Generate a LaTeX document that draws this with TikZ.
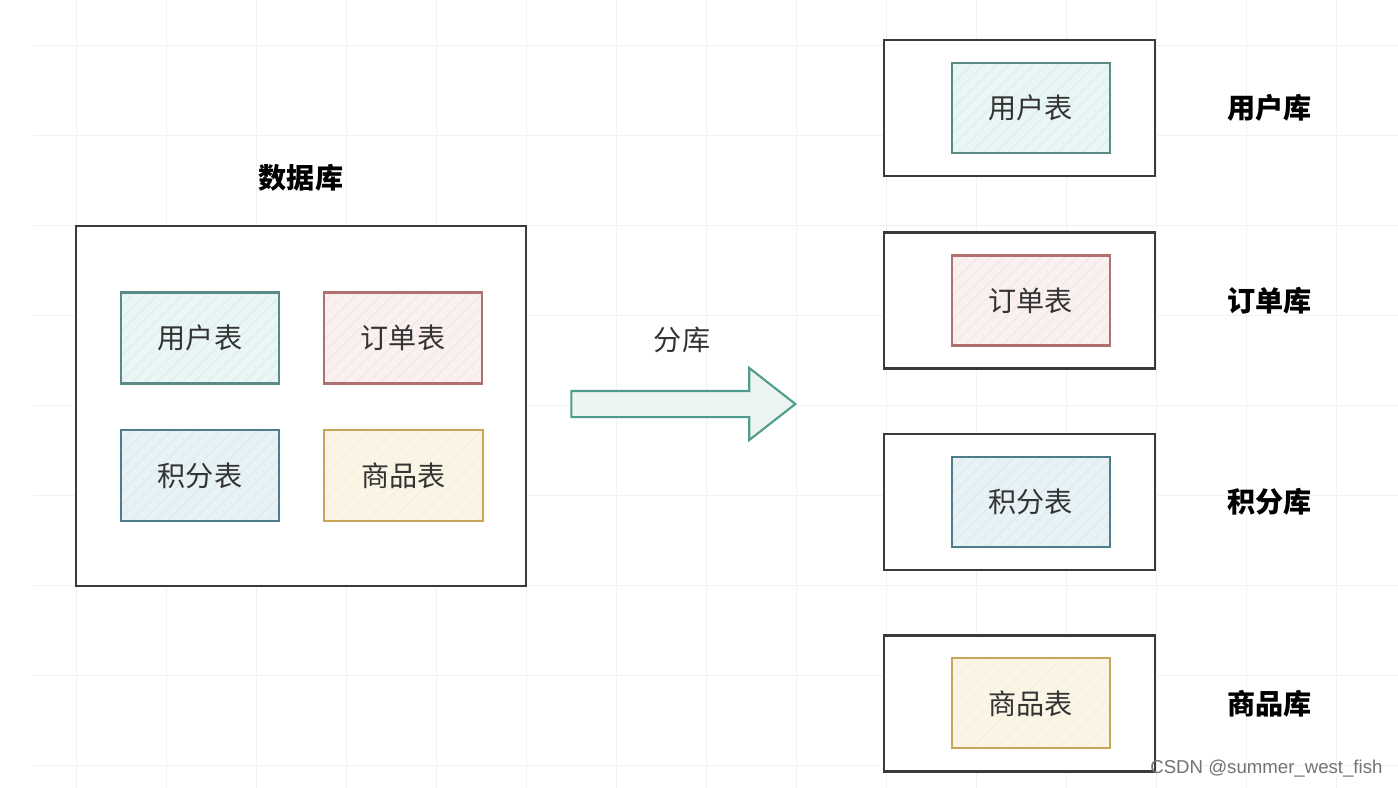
\documentclass[tikz,border=0pt]{standalone}
\usepackage{fontspec}
\setmainfont{Noto Sans CJK SC}
\newfontfamily\wmfont{Liberation Sans}
\usepackage{tikz}
\usetikzlibrary{positioning, shapes.arrows, patterns.meta}

\definecolor{userline}{HTML}{5A8A86}
\definecolor{userfill}{HTML}{E8F6F5}
\definecolor{orderline}{HTML}{B07070}
\definecolor{orderfill}{HTML}{FAF0F0}
\definecolor{pointline}{HTML}{4D7D88}
\definecolor{pointfill}{HTML}{E6F2F6}
\definecolor{goodsline}{HTML}{C9A55A}
\definecolor{goodsfill}{HTML}{FBF5E6}
\definecolor{splitline}{HTML}{4F9C8C}
\definecolor{boxline}{HTML}{3A3A3A}

\begin{document}
\begin{tikzpicture}[
			dbbox/.style={rectangle, draw=boxline, line width=1.4pt, fill=white, minimum width=5.42cm, minimum height=2.72cm},
			tblbox/.style 2 args={rectangle, draw=#1, line width=1.2pt, preaction={fill=#2}, pattern={Lines[angle=45,distance=5pt,line width=0.5pt]}, pattern color=#1!18, minimum width=3.17cm, minimum height=1.82cm, font=\fontsize{16pt}{19pt}\selectfont, text=black!80},
			dblabel/.style={inner sep=0pt, font=\fontsize{16pt}{19pt}\selectfont\bfseries},
			gridline/.style={draw=black!5, line width=0.5pt}
		]

		% canvas and grid
		\useasboundingbox (0,0) rectangle (27.96,-15.76);
		\fill[white] (0,0) rectangle (27.96,-15.76);
		\foreach \gx in {1.52,3.32,...,27.9} \draw[gridline] (\gx,0) -- (\gx,-15.76);
		\foreach \gy in {0.9,2.7,...,15.4} \draw[gridline] (0.66,-\gy) -- (27.96,-\gy);

		% one database
		\node[dbbox, minimum width=9cm, minimum height=7.2cm] (db) at (6.02,-8.12) {};
		\node[dblabel] (dbTitle) at (6.02,-3.56) {数据库};
		\node[tblbox={userline}{userfill}] (tUser) at (4.0,-6.76) {用户表};
		\node[tblbox={orderline}{orderfill}, right=0.86cm of tUser] (tOrder) {订单表};
		\node[tblbox={pointline}{pointfill}, below=0.9cm of tUser] (tPoint) {积分表};
		\node[tblbox={goodsline}{goodsfill}, right=0.86cm of tPoint] (tGoods) {商品表};

		% split
		\node[single arrow, draw=splitline, line width=1.2pt, fill=splitline!10, minimum height=4.48cm, minimum width=0pt, single arrow head extend=0.46cm, single arrow tip angle=76, inner xsep=0pt, inner ysep=0.24cm] (split) at (13.50,-8.08) {};
		\node[font=\fontsize{16pt}{19pt}\selectfont, text=black!80] (splitLabel) at (13.64,-6.8) {分库};

		% split databases
		\node[dbbox] (dbUser) at (20.39,-2.16) {};
		\node[dbbox, below=1.08cm of dbUser] (dbOrder) {};
		\node[dbbox, below=1.26cm of dbOrder] (dbPoint) {};
		\node[dbbox, below=1.26cm of dbPoint] (dbGoods) {};

		\node[tblbox={userline}{userfill}, minimum width=3.16cm, minimum height=1.8cm, right=1.36cm of dbUser.west] (rUser) {用户表};
		\node[tblbox={orderline}{orderfill}, minimum width=3.16cm, minimum height=1.8cm, right=1.36cm of dbOrder.west] (rOrder) {订单表};
		\node[tblbox={pointline}{pointfill}, minimum width=3.16cm, minimum height=1.8cm, right=1.36cm of dbPoint.west] (rPoint) {积分表};
		\node[tblbox={goodsline}{goodsfill}, minimum width=3.16cm, minimum height=1.8cm, right=1.36cm of dbGoods.west] (rGoods) {商品表};

		\node[dblabel, right=1.42cm of dbUser] (lUser) {用户库};
		\node[dblabel, right=1.42cm of dbOrder] (lOrder) {订单库};
		\node[dblabel, right=1.42cm of dbPoint] (lPoint) {积分库};
		\node[dblabel, right=1.42cm of dbGoods] (lGoods) {商品库};

		\node[anchor=west, inner sep=0pt, font=\wmfont\fontsize{10.6pt}{12pt}\selectfont, text=black!55] (mark) at (23.0,-15.38) {CSDN @summer\_west\_fish};

	\end{tikzpicture}
\end{document}
